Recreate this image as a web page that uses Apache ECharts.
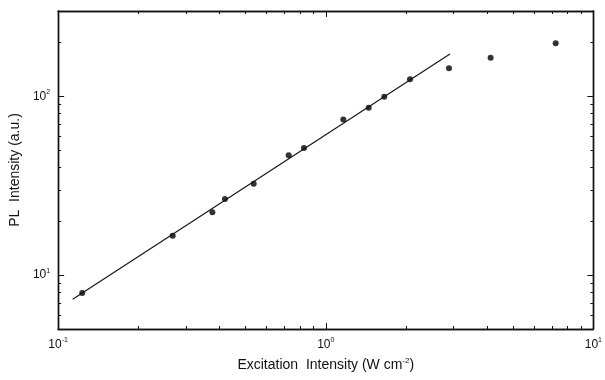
<!DOCTYPE html>
<html><head><meta charset="utf-8">
<script src="https://cdn.jsdelivr.net/npm/echarts@6/dist/echarts.min.js"></script>
<style>html,body{margin:0;padding:0;background:#fff}#c{width:605px;height:380px}</style>
</head><body><div id="c"></div>
<script>
const excitation = [0.123, 0.268, 0.377, 0.420, 0.538, 0.727, 0.829, 1.163, 1.447, 1.654, 2.064, 2.887, 4.13, 7.23];
const plIntensity = [7.96, 16.6, 22.5, 26.7, 32.4, 46.9, 51.4, 74.3, 86.4, 99.5, 124.5, 143.5, 164.4, 198];
const fitX = [0.1133, 2.911];
const fitY = [7.34, 172.5];
const xMajorTicks = [0.1, 1, 10];
const xMinorTicks = [0.2,0.3,0.4,0.5,0.6,0.7,0.8,0.9,2,3,4,5,6,7,8,9];
const yMajorTicks = [10, 100];
const yMinorTicks = [6,7,8,9,20,30,40,50,60,70,80,90,200];
const xRange = [0.1, 10];
const yRange = [5, 300];

const FONT = 'Liberation Sans, Arial, sans-serif';
const rich = {
  b: {fontSize: 12, fontFamily: FONT, color: '#111'},
  s: {fontSize: 7, fontFamily: FONT, color: '#111', padding: [0, 0, 8, 0]}
};
function powLabel(v) {
  const e = Math.round(Math.log10(v));
  return '{b|10}{s|' + e + '}';
}
const lineStyle = {color: '#111', width: 1.4};
function mkAxis(kind, pos, ticks, len, labels, extra) {
  const r = kind === 'x' ? xRange : yRange;
  return Object.assign({
    type: 'log', logBase: 10, min: r[0], max: r[1], position: pos,
    axisLine: {show: true, lineStyle: lineStyle},
    axisTick: {show: true, inside: true, length: len, customValues: ticks, lineStyle: {color: '#111', width: 1}},
    axisLabel: labels ? {show: true, customValues: labels, formatter: powLabel, rich: rich, margin: 8} : {show: false},
    splitLine: {show: false}, minorTick: {show: false}, minorSplitLine: {show: false}
  }, extra || {});
}

const chart = echarts.init(document.getElementById('c'), null, {renderer: 'canvas'});
chart.setOption({
  backgroundColor: '#fff',
  animation: false,
  grid: {left: 58, right: 7, top: 11, bottom: 51, containLabel: false},
  xAxis: [
    mkAxis('x', 'bottom', xMajorTicks, 6, xMajorTicks, {
      name: 'Excitation  Intensity (W cm{s|-2})', nameLocation: 'middle', nameGap: 28,
      nameTextStyle: {fontSize: 14, fontFamily: FONT, color: '#111',
        rich: {s: {fontSize: 8, fontFamily: FONT, color: '#111', padding: [0, 0, 8, 0]}}}
    }),
    mkAxis('x', 'bottom', xMinorTicks, 3, null),
    mkAxis('x', 'top', xMajorTicks, 6, null),
    mkAxis('x', 'top', xMinorTicks, 3, null)
  ],
  yAxis: [
    mkAxis('y', 'left', yMajorTicks, 6, yMajorTicks, {
      name: 'PL  Intensity (a.u.)', nameLocation: 'middle', nameGap: 31, nameRotate: 90,
      nameTextStyle: {fontSize: 14, fontFamily: FONT, color: '#111'}
    }),
    mkAxis('y', 'left', yMinorTicks, 3, null),
    mkAxis('y', 'right', yMajorTicks, 6, null),
    mkAxis('y', 'right', yMinorTicks, 3, null)
  ],
  series: [
    {type: 'line', xAxisIndex: 0, yAxisIndex: 0, data: fitX.map((x, i) => [x, fitY[i]]),
     symbol: 'none', lineStyle: {color: '#111', width: 1.1}, silent: true},
    {type: 'scatter', xAxisIndex: 0, yAxisIndex: 0, data: excitation.map((x, i) => [x, plIntensity[i]]),
     symbol: 'circle', symbolSize: 6, itemStyle: {color: '#000'}, silent: true}
  ]
});
</script></body></html>
